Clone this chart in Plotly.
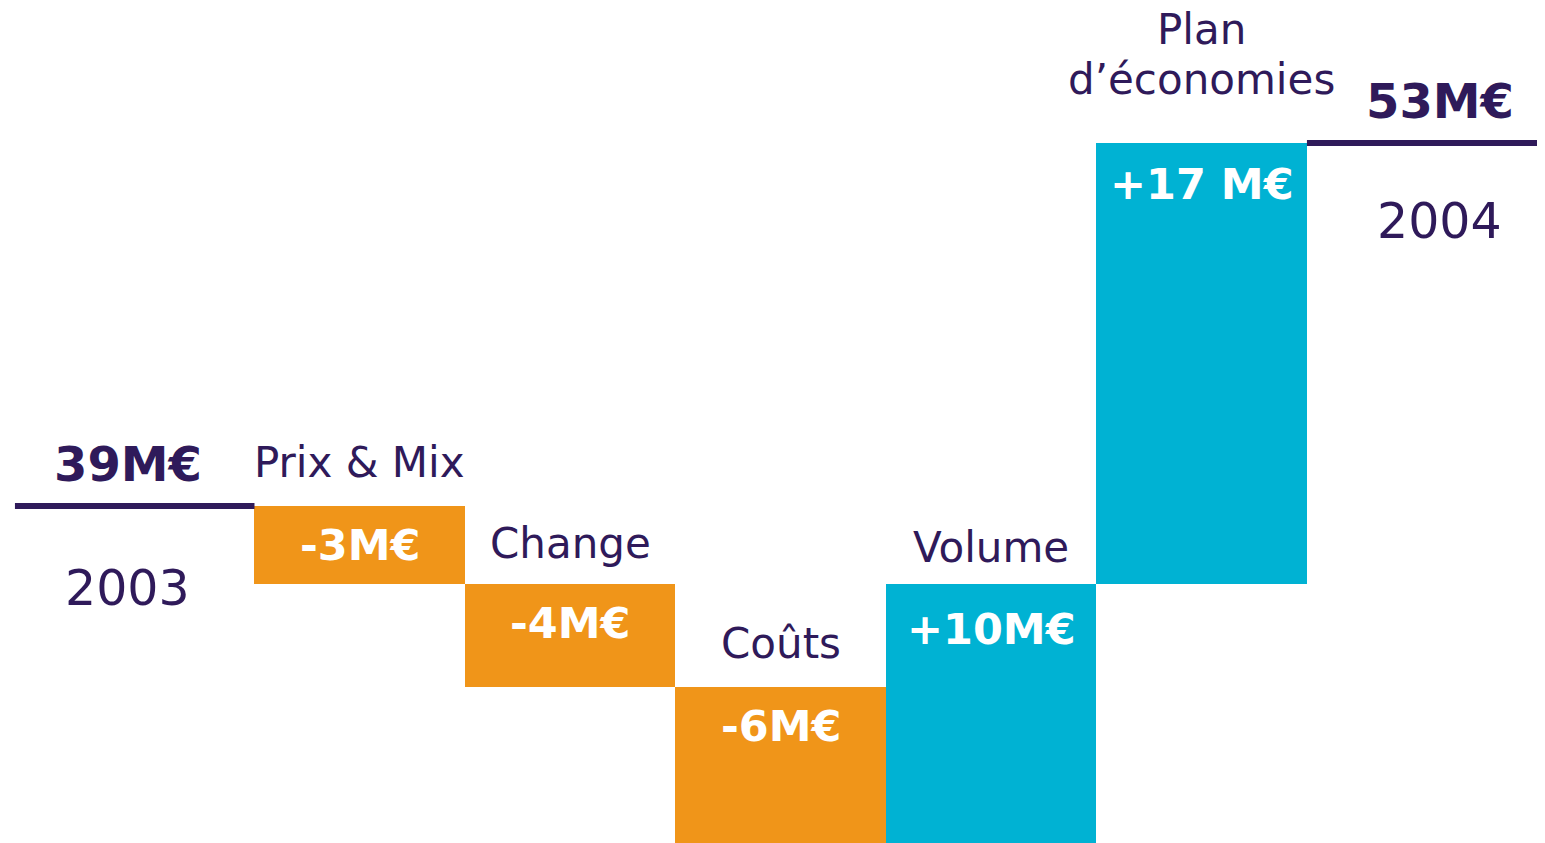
import plotly.graph_objects as go

# ---- data ----
start_label = "2003"
end_label = "2004"
start_value = 39
end_value = 53
categories = ["Prix & Mix", "Change", "Coûts", "Volume", "Plan<br>d’économies"]
deltas = [-3, -4, -6, 10, 17]
value_labels = ["-3M€", "-4M€", "-6M€", "+10M€", "+17 M€"]
start_text = "39M€"
end_text = "53M€"

# ---- styles ----
PURPLE = "#2F1A5A"
ORANGE = "#F09519"
CYAN = "#00B2D3"
FONT = "DejaVu Sans"
FIG_W, FIG_H = 1545, 843  # page body has an 8px margin; overflow is cropped

positions = list(range(1, len(deltas) + 1))
bases = []
level = start_value
for d in deltas:
    bases.append(level)
    level += d
tops = [max(b, b + d) for b, d in zip(bases, deltas)]
colors = [ORANGE if d < 0 else CYAN for d in deltas]

fig = go.Figure()
fig.add_trace(go.Bar(
    x=positions, y=deltas, base=bases, width=1.0,
    marker=dict(color=colors, line=dict(width=0)),
    hoverinfo="skip", showlegend=False,
))

X_MIN, X_MAX = -0.671, 6.669
Y_MIN, Y_MAX = 25.691, 58.207
# start and end level lines
fig.add_trace(go.Scatter(x=[-0.638, 0.5], y=[start_value, start_value], mode="lines",
                         line=dict(color=PURPLE, width=6), hoverinfo="skip", showlegend=False))
fig.add_trace(go.Scatter(x=[len(deltas) + 0.5, X_MAX + 0.2], y=[level, level], mode="lines",
                         line=dict(color=PURPLE, width=6), hoverinfo="skip", showlegend=False))

ann = []
cat_shift = [17, 14, 17, 10, 37]
val_shift = [-12, -12, -12, -18, -14]
LINE_STEP = 50
for p, t, c, v, s, vs in zip(positions, tops, categories, value_labels, cat_shift, val_shift):
    lines = c.split("<br>")
    n = len(lines)
    for i, ln in enumerate(lines):
        ann.append(dict(x=p, y=t, text=ln, showarrow=False, xanchor="center", yanchor="bottom",
                        yshift=s + (n - 1 - i) * LINE_STEP,
                        font=dict(family=FONT, size=42, color=PURPLE)))
    ann.append(dict(x=p, y=t, text="<b>" + v + "</b>", showarrow=False, xanchor="center",
                    yanchor="top", yshift=vs, font=dict(family=FONT, size=43, color="white")))

for xpos, val, txt, yr, ys in [(-0.101, start_value, start_text, start_label, -52),
                               (6.13, level, end_text, end_label, -48)]:
    ann.append(dict(x=xpos, y=val, text="<b>" + txt + "</b>", showarrow=False, xanchor="center",
                    yanchor="bottom", yshift=12, font=dict(family=FONT, size=48, color=PURPLE)))
    ann.append(dict(x=xpos, y=val, text=yr, showarrow=False, xanchor="center",
                    yanchor="top", yshift=ys, font=dict(family=FONT, size=49, color=PURPLE)))

fig.update_layout(
    width=FIG_W, height=FIG_H,
    margin=dict(l=0, r=0, t=0, b=0),
    paper_bgcolor="white", plot_bgcolor="white",
    xaxis=dict(range=[X_MIN, X_MAX], visible=False, fixedrange=True),
    yaxis=dict(range=[Y_MIN, Y_MAX], visible=False, fixedrange=True),
    annotations=ann,
    bargap=0,
    showlegend=False,
)

fig.write_html("out.html", config={"displayModeBar": False})
